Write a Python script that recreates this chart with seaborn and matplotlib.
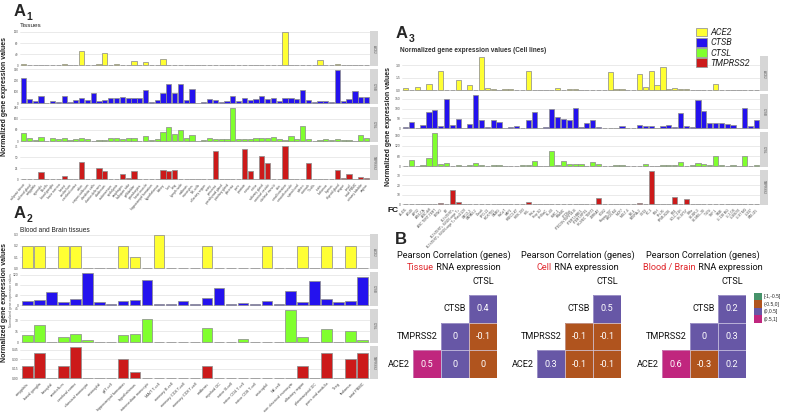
import numpy as np
import pandas as pd
import matplotlib
matplotlib.use("Agg")
import matplotlib.pyplot as plt
import seaborn as sns
from matplotlib.colors import ListedColormap, BoundaryNorm
from matplotlib.patches import Patch, Rectangle
from matplotlib.ticker import MaxNLocator

sns.set_style("white")
plt.rcParams['font.family'] = ['Liberation Sans', 'DejaVu Sans']

W, H = 786, 417

# ---------------- data ----------------
genes = ["ACE2", "CTSB", "CTSL", "TMPRSS2"]
gene_colors = ["#FFFF33", "#2412EE", "#80FF2E", "#CC1A1A"]

tissues = ["adipose tissue", "adrenal gland", "amygdala", "appendix", "B-cells", "basal ganglia",
           "bone marrow", "breast", "cerebellum", "cerebral cortex", "colon", "corpus callosum",
           "dendritic cells", "ductus deferens", "duodenum", "endometrium", "epididymis", "esophagus",
           "fallopian tube", "gallbladder", "granulocytes", "heart muscle", "hippocampal formation",
           "hypothalamus", "kidney", "liver", "lung", "lymph node", "midbrain", "monocytes", "NK-cells",
           "olfactory region", "ovary", "pancreas", "parathyroid gland", "pituitary gland", "placenta",
           "pons", "prostate", "rectum", "retina", "salivary gland", "seminal vesicle", "skeletal muscle",
           "skin", "small intestine", "smooth muscle", "spinal cord", "spleen", "stomach", "T-cells",
           "testis", "thalamus", "thymus", "thyroid gland", "tongue", "tonsil", "total PBMC",
           "urinary bladder", "vagina"]
tissue_ace2 = [3, 0.5, 0, 1, 0, 0, 0.3, 3, 0, 0,
               50, 0, 0, 3, 46, 0, 3, 1, 1, 17,
               0, 12, 0, 0, 24, 1, 1, 1, 0, 0,
               0, 0, 0.3, 1, 0.5, 0, 0, 1, 0.5, 1,
               1, 1, 0.5, 0, 0, 121, 0, 0, 0, 0.5,
               0, 20, 0, 0, 3, 0, 0, 0, 0, 1]
tissue_ctsb = [225, 40, 22, 65, 6, 22, 15, 65, 15, 30,
               46, 30, 89, 22, 30, 46, 43, 52, 49, 43,
               49, 120, 15, 25, 92, 166, 92, 172, 30, 123,
               3, 15, 40, 30, 15, 22, 68, 22, 43, 30,
               34, 62, 34, 43, 22, 49, 49, 34, 114, 25,
               15, 22, 18, 15, 295, 22, 34, 105, 55, 58]
tissue_ctsl = [57, 20, 7, 27, 0, 20, 17, 20, 7, 15,
               20, 15, 1, 12, 12, 20, 20, 15, 22, 20,
               0, 35, 12, 15, 65, 100, 50, 80, 20, 42,
               0, 7, 22, 15, 17, 17, 237, 17, 17, 15,
               20, 20, 20, 27, 15, 12, 35, 17, 110, 17,
               0, 12, 15, 7, 17, 10, 10, 2, 42, 22]
tissue_tmprss2 = [0, 0, 0, 16, 0, 1, 0, 7, 0.5, 1,
                  39, 1, 0, 26, 18, 0.5, 0.5, 11, 3, 18,
                  0, 0, 0, 0, 20, 19, 21, 0, 0, 0,
                  0, 0, 1, 65, 0, 1, 1, 1, 68, 19,
                  0, 53, 36, 0, 1, 76, 1, 0, 1, 37,
                  0, 1, 1, 1, 21, 4, 11, 0, 5, 4]

blood_brain = ["amygdala", "basal ganglia", "basophil", "cerebellum", "cerebral cortex",
               "classical monocyte", "eosinophil", "gdT-cell", "hippocampal formation", "hypothalamus",
               "intermediate monocyte", "MAIT T-cell", "memory B-cell", "memory CD4 T-cell",
               "memory CD8 T-cell", "midbrain", "myeloid DC", "naive B-cell", "naive CD4 T-cell",
               "naive CD8 T-cell", "neutrophil", "NK-cell", "non-classical monocyte", "olfactory region",
               "plasmacytoid DC", "pons and medulla", "T-reg", "thalamus", "total PBMC"]
bb_ace2 = [0.2, 0.2, 0, 0.2, 0.2, 0, 0, 0, 0.2, 0.1, 0, 0.3, 0, 0, 0, 0.2, 0, 0, 0, 0,
           0.2, 0, 0, 0.2, 0, 0.2, 0, 0.2, 0]
bb_ctsb = [18, 22, 52, 14, 26, 128, 15, 5, 17, 21, 98, 7, 7, 16, 5, 28, 68, 6, 9, 5,
           17, 5, 55, 15, 96, 23, 13, 19, 110]
bb_ctsl = [10, 24, 0, 7, 11, 3, 0, 0, 10, 11, 31, 0, 0, 1, 0, 19, 1, 0, 4, 0,
           0, 0, 44, 7, 0, 18, 0, 15, 3]
bb_tmprss2 = [0.2, 0.4, 0, 0.2, 0.5, 0, 0, 0, 0.3, 0.1, 0, 0, 0, 0, 0, 0.2, 0, 0, 0, 0,
              0, 0, 0, 0.2, 0, 0.4, 0, 0.3, 0.4]

cell_lines = ["A-431", "A549", "AF22", "AN3-CA", "ASC diff", "ASC TERT-TERT", "BEWO", "BJ",
              "BJ hTERT+", "BJ hTERT+ SV40 Large T+", "BJ hTERT+ SV40 Large T+ RasG12V", "CACO-2",
              "CAPAN-2", "Daudi", "EFO-21", "fHDF/TIG", "GAMG", "HaCaT", "HAP1", "HBEC3-KT",
              "HEK 293", "HEL", "HeLa", "Hep G2", "HHSteC", "HL-60", "HMC-1", "HSkMC", "hTCEpi",
              "hTEC/SVTERT24-B", "hTERT-HME1", "hTERT-RPE1", "HUVEC TERT2", "JURKAT", "K-562",
              "Karpas-707", "LHCN-M2", "MCF7", "MOLT-4", "NB-4", "NTERA-2", "OE19", "PC-3", "REH",
              "RH-30", "RPMI-8226", "RT4", "SCLC-21H", "SH-SY5Y", "SiHa", "SK-BR-3", "SK-MEL-30",
              "T-47d", "THP-1", "TIME", "U-138 MG", "U-2 OS", "U-266/70", "U-87 MG", "U-937", "WM-115"]
cell_ace2 = [0.25, 0, 0.4, 0, 0.72, 0, 2.35, 0, 0, 1.25,
             0, 0.6, 0, 4.0, 0.22, 0.12, 0, 0.12, 0.12, 0,
             0, 2.35, 0, 0, 0, 0, 0.25, 0, 0.2, 0.12,
             0, 0, 0, 0, 0, 2.15, 0.1, 0.2, 0, 0,
             1.95, 0.4, 2.35, 0.6, 2.75, 0.12, 0.25, 0.15, 0.15, 0,
             0, 0, 0, 0.7, 0, 0, 0, 0, 0, 0, 0]
cell_ctsb = [7, 34, 3, 19, 81, 91, 12, 150, 16, 47,
             0, 21, 171, 43, 5, 40, 33, 0.5, 5, 10,
             1, 41, 83, 1, 8, 100, 55, 48, 41, 102,
             8, 27, 43, 7, 1, 3, 2, 12, 3, 3,
             19, 14, 10, 2, 10, 17, 8, 79, 14, 7,
             143, 90, 29, 29, 29, 24, 19, 1, 102, 10, 41]
cell_ctsl = [4, 36, 3, 6, 48, 198, 14, 18, 3, 5,
             0, 10, 22, 6, 3, 5, 10, 1, 3, 1,
             10, 7, 30, 1, 4, 92, 10, 30, 12, 12,
             12, 1, 24, 12, 0, 1, 5, 5, 0, 1,
             0, 12, 3, 3, 5, 5, 10, 24, 0, 6,
             22, 16, 8, 58, 8, 0, 5, 0, 58, 0, 5]
cell_tmprss2 = [0, 0, 0, 0, 0, 0, 1.2, 0, 14.7, 2,
                0, 0, 0, 0, 0, 0, 0, 0, 0, 0,
                0, 2, 0, 0, 0, 0, 0, 0, 0, 0,
                0, 0, 0, 6.3, 0, 0, 0.7, 0.7, 0, 0,
                1.2, 0, 35, 0, 0, 0, 7.4, 0, 6, 0,
                0, 0, 0, 0, 0.2, 0, 0, 0, 0.2, 0, 0]

# correlation matrices (rows: CTSB, TMPRSS2, ACE2; cols: TMPRSS2, CTSB, CTSL)
hm_rows = ["CTSB", "TMPRSS2", "ACE2"]
hm_cols = ["TMPRSS2", "CTSB", "CTSL"]
nan = np.nan
corr_tissue = [[nan, nan, 0.41], [nan, 0.03, -0.08], [0.52, 0.03, -0.03]]
corr_cell = [[nan, nan, 0.48], [nan, -0.08, -0.08], [0.31, -0.08, -0.08]]
corr_blood = [[nan, nan, 0.21], [nan, 0.03, 0.29], [0.58, -0.29, 0.21]]
bin_edges = [-1, -0.5, 0, 0.5, 1]
bin_labels = ["[-1,-0.5]", "(-0.5,0]", "(0,0.5]", "(0.5,1]"]
bin_colors = ["#46936A", "#B0541E", "#6757A6", "#C0267E"]

# ---------------- figure ----------------
fig = plt.figure(figsize=(7.86, 4.17), dpi=100)


def rect(x0, y0, x1, y1):
    return [x0 / W, 1 - y1 / H, (x1 - x0) / W, (y1 - y0) / H]


def facet_block(labels, series, x0, x1, rows, strip, xfs, yfs, rot):
    for k, vals in enumerate(series):
        y0, y1 = rows[k]
        ax = fig.add_axes(rect(x0, y0, x1, y1))
        df = pd.DataFrame({"label": labels, "value": vals})
        sns.barplot(data=df, x="label", y="value", ax=ax, color=gene_colors[k], saturation=1,
                    width=0.9, edgecolor="#8f8f8f", linewidth=0.55, errorbar=None)
        n = len(labels)
        m = max(vals)
        ax.set_xlim(-0.6, n - 0.4)
        ax.set_ylim(-0.05 * m, 1.05 * m)
        ax.yaxis.set_major_locator(MaxNLocator(nbins=4))
        ax.grid(axis="y", color="#E2E2E2", lw=0.5)
        ax.set_axisbelow(True)
        for s in ax.spines.values():
            s.set_visible(False)
        ax.set_xlabel("")
        ax.set_ylabel("")
        ax.tick_params(axis="y", labelsize=yfs, length=0, pad=1, labelcolor="#555555")
        if k == len(series) - 1:
            ax.tick_params(axis="x", labelsize=xfs, length=1, width=0.3, pad=0.5,
                           labelcolor="#444444", color="#888888")
            for t in ax.get_xticklabels():
                t.set_rotation(rot)
                t.set_ha("right")
                t.set_rotation_mode("anchor")
        else:
            ax.tick_params(axis="x", labelbottom=False, length=0)
        sax = fig.add_axes(rect(strip[0], y0 + 1, strip[1], y1 - 1))
        sax.set_facecolor("#D6D6D6")
        sax.set_xticks([])
        sax.set_yticks([])
        for s in sax.spines.values():
            s.set_visible(False)
        sax.text(0.5, 0.5, genes[k], rotation=270, ha="center", va="center",
                 fontsize=2.2, color="#555555", transform=sax.transAxes)


# A1 tissues
facet_block(tissues, [tissue_ace2, tissue_ctsb, tissue_ctsl, tissue_tmprss2], 20, 370,
            [(30, 67), (68, 105), (106, 143), (144, 181)], (370, 378), 2.3, 2.2, 50)
# A2 blood & brain
facet_block(blood_brain, [bb_ace2, bb_ctsb, bb_ctsl, bb_tmprss2], 20, 370,
            [(233, 270), (271, 307), (308, 344), (345, 380)], (370, 378), 2.8, 2.4, 45)
# A3 cell lines
facet_block(cell_lines, [cell_ace2, cell_ctsb, cell_ctsl, cell_tmprss2], 402, 760,
            [(55, 92), (93, 130), (131, 168), (169, 206)], (760, 768), 2.3, 2.4, 45)

# panel letters and titles
def px(x, y):
    return x / W, 1 - y / H

def panel_label(x, y, letter, sub):
    fig.text(*px(x, y), letter, fontsize=12, fontweight="bold", ha="left", va="top",
             family="Liberation Sans")
    if sub:
        fig.text(*px(x + 12.5, y + 16.5), sub, fontsize=7.5, fontweight="bold", ha="left",
                 va="baseline", family="Liberation Sans")

panel_label(14, 4, "A", "1")
panel_label(14, 206, "A", "2")
panel_label(396, 26, "A", "3")
panel_label(395, 232, "B", "")

fig.text(*px(20, 25.5), "Tissues", fontsize=4.6, va="center", ha="left", color="#222222")
fig.text(*px(20, 230), "Blood and Brain tissues", fontsize=4.8, va="center", ha="left", color="#222222")
fig.text(*px(400, 50.5), "Normalized gene expression values (Cell lines)", fontsize=4.7,
         va="center", ha="left", color="#333333", fontweight="bold")
fig.text(*px(5, 97), "Normalized gene expression values", fontsize=5, rotation=90,
         va="center", ha="center", color="#222222", fontweight="bold")
fig.text(*px(5, 302), "Normalized gene expression values", fontsize=5, rotation=90,
         va="center", ha="center", color="#222222", fontweight="bold")
fig.text(*px(11, 300), "Normalized gene expression values", fontsize=2.4, rotation=90,
         va="center", ha="center", color="#666666")
fig.text(*px(388, 126), "Normalized gene expression values", fontsize=5, rotation=90,
         va="center", ha="center", color="#222222", fontweight="bold")
fig.text(*px(388, 211), "FC", fontsize=6, va="center", ha="left", color="#111111", fontweight="bold")

# gene legend
fig.legend(handles=[Patch(facecolor=c, edgecolor="#999999", lw=0.6) for c in gene_colors],
           labels=genes, loc="upper left", bbox_to_anchor=(696 / W, 1 - 27.5 / H),
           frameon=False, prop={"family": "Roboto", "style": "italic", "size": 6.6},
           handlelength=1.25, handleheight=1.12, labelspacing=0.08, handletextpad=0.35,
           borderpad=0, borderaxespad=0)

# ---------------- B heatmaps ----------------
cmap = ListedColormap(bin_colors)
norm = BoundaryNorm(bin_edges, cmap.N)


def fmt(v):
    if np.isnan(v):
        return ""
    r = round(v, 1) + 0.0
    return f"{r:g}"


renderer = fig.canvas.get_renderer()


def title_lines(xc, red, black):
    fig.text(*px(xc, 255), "Pearson Correlation (genes)", fontsize=6.6, family="Roboto",
             ha="center", va="center", color="#111111")
    t1 = fig.text(0, 0, red, fontsize=6.6, family="Roboto", color="#E0262B", va="center")
    t2 = fig.text(0, 0, black, fontsize=6.6, family="Roboto", color="#111111", va="center")
    w1 = t1.get_window_extent(renderer).width
    w2 = t2.get_window_extent(renderer).width
    start = xc - (w1 + w2) / 2
    t1.set_position(px(start, 267))
    t2.set_position(px(start + w1, 267))


for (x0, mat, red, xc) in [(413, corr_tissue, "Tissue", 453.5),
                           (537, corr_cell, "Cell", 577.5),
                           (662, corr_blood, "Blood / Brain", 703)]:
    data = np.array(mat, dtype=float)
    annot = np.array([[fmt(v) for v in row] for row in data])
    ax = fig.add_axes(rect(x0, 295, x0 + 84, 378))
    ax.set_facecolor("none")
    sns.heatmap(data, mask=np.isnan(data), cmap=cmap, norm=norm, annot=annot, fmt="",
                cbar=False, linewidths=0, ax=ax,
                xticklabels=False, yticklabels=False,
                annot_kws={"color": "white", "fontsize": 6.6, "family": "Roboto"})
    # faint cell borders only around filled cells
    for i in range(data.shape[0]):
        for j in range(data.shape[1]):
            if not np.isnan(data[i, j]):
                ax.add_patch(Rectangle((j, i), 1, 1, fill=False, edgecolor="#D5CFE8",
                                       lw=0.5, alpha=0.7))
    ax.tick_params(length=0)
    # diagonal labels
    diag = ["ACE2", "TMPRSS2", "CTSB", "CTSL"]
    for j, name in enumerate(diag):
        ax.text(j - 0.12, 2.5 - j, name, ha="right", va="center", fontsize=6.6,
                family="Roboto", color="#111111")
    title_lines(xc, red, " RNA expression")

fig.legend(handles=[Patch(facecolor=c, edgecolor="none") for c in bin_colors],
           labels=bin_labels, loc="upper left", bbox_to_anchor=(754 / W, 1 - 293 / H),
           frameon=False, prop={"family": "Liberation Sans", "size": 3.6},
           handlelength=1.5, handleheight=1.9, labelspacing=0.0, handletextpad=0.5,
           borderpad=0, borderaxespad=0)

fig.savefig("out.png", dpi=100)
